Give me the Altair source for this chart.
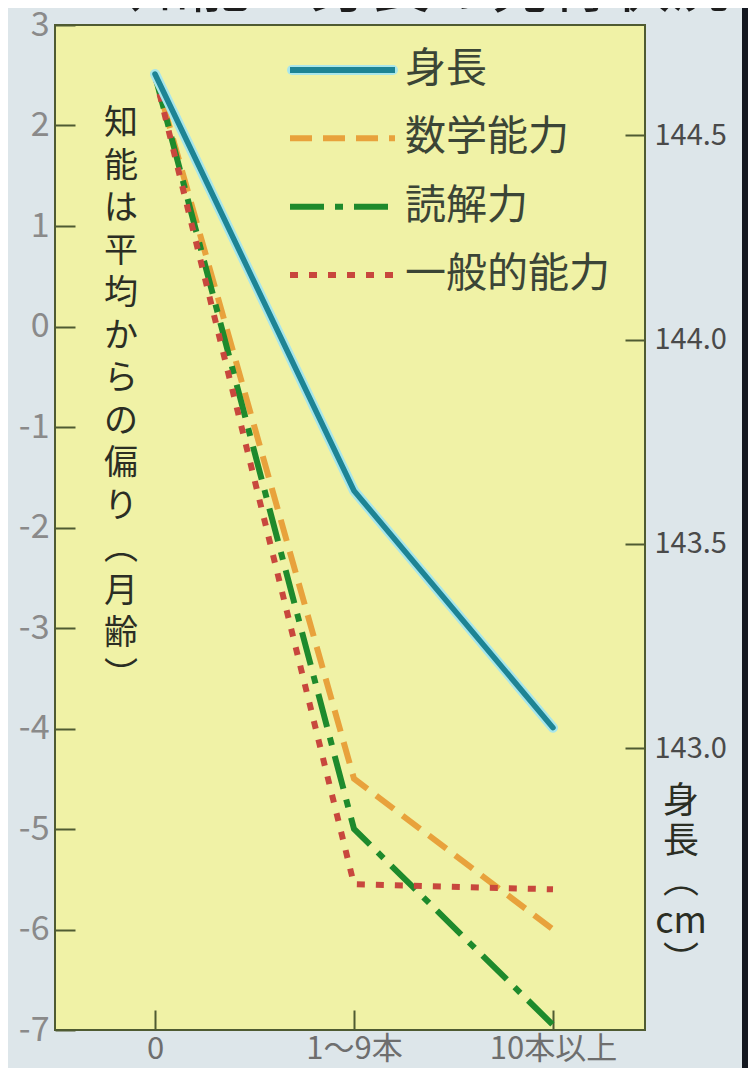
import altair as alt
import pandas as pd

# ---- data ----
categories = ["0", "1〜9本", "10本以上"]
math_vals = [2.5, -4.5, -6.0]          # 数学能力 (left axis, months)
reading_vals = [2.5, -5.0, -6.95]      # 読解力
general_vals = [2.5, -5.55, -5.6]      # 一般的能力
height_vals = [144.65, 143.63, 143.05]  # 身長 (right axis, cm)

series_names = ["身長", "数学能力", "読解力", "一般的能力"]
series_colors = ["#1d8494", "#e8a23c", "#1e8a2c", "#c8473d"]
series_dashes = [[1, 0], [22, 11], [34, 11, 8, 11], [8, 11]]

left_ticks = [3, 2, 1, 0, -1, -2, -3, -4, -5, -6, -7]
right_ticks = [143.0, 143.5, 144.0, 144.5]

chart_title = "知能・身長の発育状況"
left_title = "知\n能\nは\n平\n均\nか\nら\nの\n偏\nり\n︵\n月\n齢\n︶"
right_title = "身\n長\n︵\ncm\n︶"

FONT = "Noto Sans CJK JP"

# ---- tables ----
ab_rows = []
for name, vals in [("数学能力", math_vals), ("読解力", reading_vals), ("一般的能力", general_vals)]:
    for i, (c, v) in enumerate(zip(categories, vals)):
        ab_rows.append({"series": name, "category": c, "value": v, "idx": i})
ab_df = pd.DataFrame(ab_rows)

h_df = pd.DataFrame({"series": "身長", "category": categories, "value": height_vals,
                     "idx": list(range(len(categories)))})

leg_df = pd.DataFrame({"series": series_names})

color_enc = alt.Color("series:N", scale=alt.Scale(domain=series_names, range=series_colors), legend=None)
dash_enc = alt.StrokeDash("series:N", scale=alt.Scale(domain=series_names, range=series_dashes), legend=None)

x_enc = alt.X("category:O",
              scale=alt.Scale(domain=categories, range=[100, 498], padding=0),
              axis=alt.Axis(title=None, labelAngle=0, offset=-20, tickSize=20, domain=False,
                            tickColor="#4f5b32", tickWidth=2, labelFontSize=31,
                            labelColor="#6e6e6e", labelPadding=4, labelFont=FONT, grid=False))

abil = alt.Chart(ab_df).mark_line(strokeWidth=6, strokeCap="butt").encode(
    x=x_enc,
    y=alt.Y("value:Q", scale=alt.Scale(domain=[-7, 3], nice=False, zero=False),
            axis=alt.Axis(orient="left", values=left_ticks, offset=-20, tickSize=20, domain=False,
                          grid=False, title=None, tickColor="#4f5b32", tickWidth=2,
                          labelFontSize=34, labelColor="#8a8a8a", labelPadding=6, labelFont=FONT,
                          labelExpr="'' + datum.value")),
    color=color_enc,
    strokeDash=dash_enc,
    order=alt.Order("idx:Q"),
)

h_y_axis = alt.Axis(orient="right", values=right_ticks, format=".1f", offset=-20, tickSize=20,
                    domain=False, grid=False, title=None, tickColor="#4f5b32", tickWidth=2,
                    labelFontSize=29, labelColor="#4a4a4a", labelPadding=9, labelFont=FONT)
h_scale = alt.Scale(domain=[142.31, 144.77], nice=False, zero=False)

h_halo = alt.Chart(h_df).mark_line(strokeWidth=10, color="#a8e6ea", strokeCap="round").encode(
    x=x_enc,
    y=alt.Y("value:Q", scale=h_scale, axis=h_y_axis),
    order=alt.Order("idx:Q"),
)
h_line = alt.Chart(h_df).mark_line(strokeWidth=5.5, strokeCap="round").encode(
    x=x_enc,
    y=alt.Y("value:Q", scale=h_scale, axis=h_y_axis),
    color=color_enc,
    order=alt.Order("idx:Q"),
)
height_layer = alt.layer(h_halo, h_line)

# ---- legend drawn inside the plot ----
leg_y = alt.Y("series:N", scale=alt.Scale(type="point", domain=series_names, range=[45, 250], padding=0),
              axis=None)
leg_halo = alt.Chart(leg_df).transform_filter(alt.datum.series == "身長").mark_rule(
    strokeWidth=10, color="#a8e6ea", strokeCap="round").encode(
    x=alt.value(237), x2=alt.value(338), y=leg_y)
leg_rule = alt.Chart(leg_df).mark_rule(strokeWidth=6, strokeCap="butt").encode(
    x=alt.value(235), x2=alt.value(340), y=leg_y, color=color_enc, strokeDash=dash_enc)
leg_text = alt.Chart(leg_df).mark_text(align="left", baseline="middle", fontSize=41, font=FONT,
                                       color="#3b4536").encode(
    x=alt.value(350), y=leg_y, text="series:N")
legend_layer = alt.layer(leg_halo, leg_rule, leg_text)

# ---- titles ----
txt_df = pd.DataFrame({"t": [left_title]})
left_t = alt.Chart(txt_df).mark_text(align="center", baseline="top", fontSize=34, lineHeight=42.5,
                                     font=FONT, color="#2b2e24", lineBreak="\n").encode(
    x=alt.value(66), y=alt.value(82), text="t:N")
rt_df = pd.DataFrame({"t": [right_title]})
right_t = alt.Chart(rt_df).mark_text(align="center", baseline="top", fontSize=36, lineHeight=40,
                                     font=FONT, color="#2b2e24", lineBreak="\n").encode(
    x=alt.value(626), y=alt.value(760), text="t:N")
top_df = pd.DataFrame({"t": [chart_title]})
top_t = alt.Chart(top_df).mark_text(align="left", baseline="alphabetic", fontSize=60,
                                    font=FONT, color="#1e1e1e").encode(
    x=alt.value(75), y=alt.value(-18), text="t:N")
edge_df = pd.DataFrame({"k": [0]})
edge = alt.Chart(edge_df).mark_rect(color="#141820").encode(
    x=alt.value(687), x2=alt.value(720), y=alt.value(-30), y2=alt.value(1060))

chart = alt.layer(abil, height_layer, legend_layer, left_t, right_t, top_t, edge).resolve_scale(
    y="independent"
).properties(
    width=590, height=1005,
    background="#dde6ea",
    padding={"left": 47, "top": 17, "right": 103, "bottom": 38},
    autosize=alt.AutoSizeParams(type="none"),
).configure_view(fill="#f0f2a6", stroke="#4f5b32", strokeWidth=2)

chart.save("out.html", embed_options={"renderer": "svg", "actions": False})
